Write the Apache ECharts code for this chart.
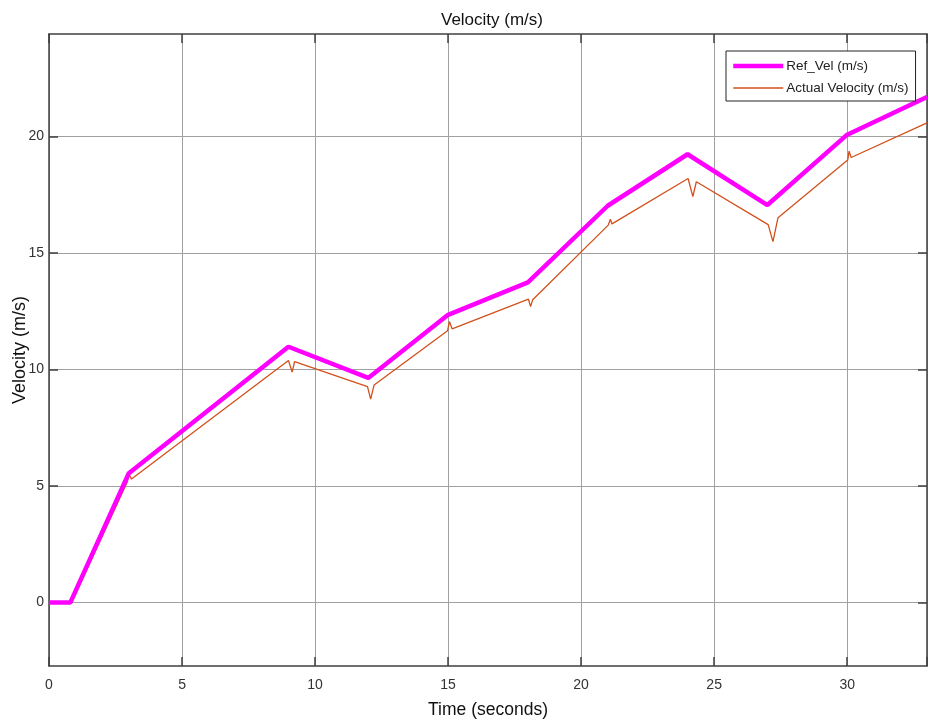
<!DOCTYPE html>
<html>
<head>
<meta charset="utf-8">
<script src="https://cdn.jsdelivr.net/npm/echarts@6/dist/echarts.min.js"></script>
<style>
html,body{margin:0;padding:0;background:#fff;}
#chart{width:933px;height:721px;}
</style>
</head>
<body>
<div id="chart"></div>
<script>
// Data
const refTime = [0, 0.8, 3, 9, 12, 15, 18, 21, 24, 27, 30, 33];
const refVel  = [0, 0, 5.55, 10.98, 9.64, 12.35, 13.74, 17.03, 19.24, 17.06, 20.08, 21.7];

const actTime = [0, 0.85, 2.95, 3.0, 3.1, 9.0, 9.14, 9.23, 11.97, 12.09, 12.22, 14.98, 15.05, 15.15, 18.02, 18.1, 18.18, 21.02, 21.1, 21.16, 24.02, 24.2, 24.33, 27.03, 27.21, 27.4, 30.02, 30.07, 30.15, 33];
const actVel  = [0, 0, 5.2, 5.5, 5.3, 10.39, 9.89, 10.34, 9.27, 8.73, 9.34, 11.67, 12.06, 11.75, 13.02, 12.7, 13.0, 16.2, 16.45, 16.25, 18.2, 17.42, 18.06, 16.22, 15.49, 16.52, 18.99, 19.37, 19.1, 20.59];

const xTicks = [0, 5, 10, 15, 20, 25, 30];
const yTicks = [0, 5, 10, 15, 20];

const seriesNames = ['Ref_Vel (m/s)', 'Actual Velocity (m/s)'];

const toPairs = (xs, ys) => xs.map((x, i) => [x, ys[i]]);

const FONT = 'Liberation Sans, Arial, sans-serif';
const axisColor = '#404040';

const chart = echarts.init(document.getElementById('chart'));
chart.setOption({
  animation: false,
  backgroundColor: '#fff',
  title: {
    text: 'Velocity (m/s)',
    left: 487, top: 7, textAlign: 'center',
    textStyle: { fontFamily: FONT, fontSize: 17, fontWeight: 'normal', color: '#111' }
  },
  legend: {
    orient: 'vertical',
    left: 726, top: 51,
    padding: [8, 7, 6, 5],
    itemGap: 8,
    itemWidth: 50,
    itemHeight: 10,
    borderColor: '#222', borderWidth: 1,
    backgroundColor: '#fff',
    itemStyle: { opacity: 0 },
    lineStyle: { width: 'inherit' },
    textStyle: { fontFamily: FONT, fontSize: 13.5, color: '#222', padding: [0, 0, 0, -2] },
    data: seriesNames
  },
  grid: { left: 49, right: 6, top: 34, bottom: 55, containLabel: false, outerBoundsMode: 'none' },
  xAxis: [{
    type: 'value', min: 0, max: 33, interval: 5,
    name: 'Time (seconds)', nameLocation: 'middle', nameGap: 35,
    nameTextStyle: { fontFamily: FONT, fontSize: 17.5, color: '#111' },
    axisLine: { show: true, onZero: false, lineStyle: { color: axisColor, width: 1.5 } },
    axisTick: { show: true, inside: true, length: 9, lineStyle: { color: axisColor, width: 1.5 } },
    axisLabel: { fontFamily: FONT, fontSize: 14, color: '#333', margin: 12,
      customValues: xTicks },
    splitLine: { show: true, lineStyle: { color: '#a0a0a0', width: 1 } }
  }, {
    type: 'value', min: 0, max: 33, interval: 5, position: 'top',
    axisLine: { show: true, onZero: false, lineStyle: { color: axisColor, width: 1.5 } },
    axisTick: { show: true, inside: true, length: 9, lineStyle: { color: axisColor, width: 1.5 } },
    axisLabel: { show: false },
    splitLine: { show: false }
  }],
  yAxis: [{
    type: 'value', min: -2.72, max: 24.4,
    name: 'Velocity (m/s)', nameLocation: 'middle', nameGap: 20, nameMoveOverlap: false,
    nameTextStyle: { fontFamily: FONT, fontSize: 18, color: '#111' },
    axisLine: { show: true, onZero: false, lineStyle: { color: axisColor, width: 1.5 } },
    axisTick: { show: true, inside: true, length: 9, customValues: yTicks, lineStyle: { color: axisColor, width: 1.5 } },
    axisLabel: { fontFamily: FONT, fontSize: 14, color: '#333', margin: 5, customValues: yTicks },
    splitLine: { show: true, lineStyle: { color: '#a0a0a0', width: 1 } }
  }, {
    type: 'value', min: -2.72, max: 24.4, position: 'right',
    axisLine: { show: true, onZero: false, lineStyle: { color: axisColor, width: 1.5 } },
    axisTick: { show: true, inside: true, length: 9, customValues: yTicks, lineStyle: { color: axisColor, width: 1.5 } },
    axisLabel: { show: false, customValues: yTicks },
    splitLine: { show: false }
  }],
  series: [{
    name: seriesNames[0], type: 'line', xAxisIndex: 0, yAxisIndex: 0,
    data: toPairs(refTime, refVel),
    showSymbol: false, symbol: 'none',
    lineStyle: { color: '#ff00ff', width: 4.5 },
    itemStyle: { color: '#ff00ff' },
    z: 3
  }, {
    name: seriesNames[1], type: 'line', xAxisIndex: 0, yAxisIndex: 0,
    data: toPairs(actTime, actVel),
    showSymbol: false, symbol: 'none',
    lineStyle: { color: '#d2501a', width: 1.3 },
    itemStyle: { color: '#d2501a' },
    z: 2
  }]
});
</script>
</body>
</html>
